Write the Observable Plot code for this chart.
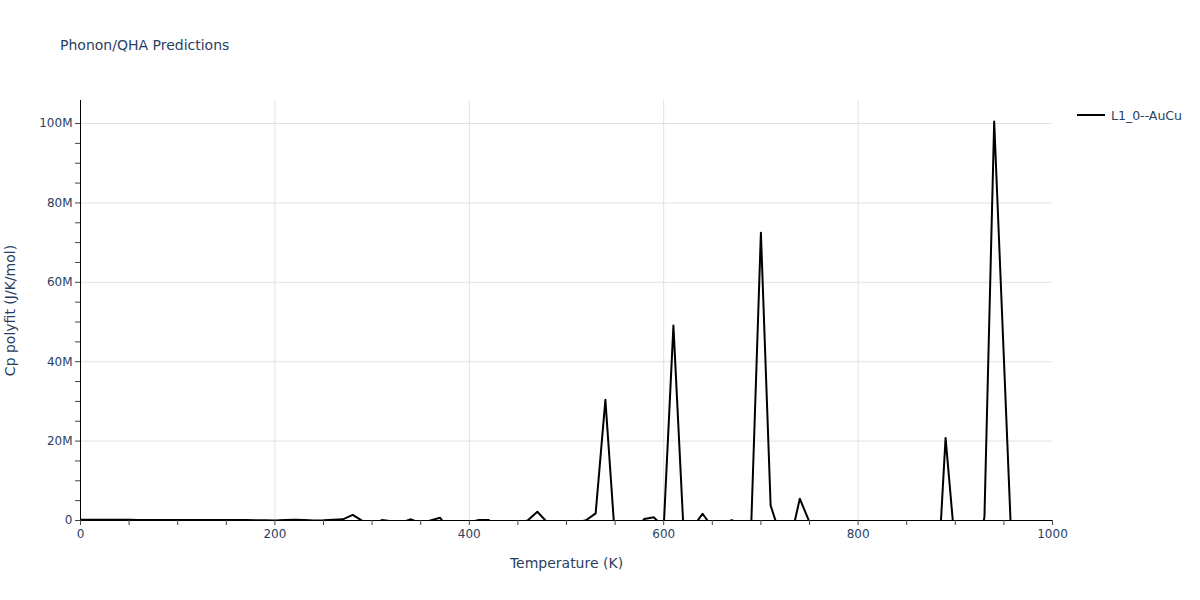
<!DOCTYPE html>
<html>
<head>
<meta charset="utf-8">
<script src="https://cdn.jsdelivr.net/npm/d3@7"></script>
<script src="https://cdn.jsdelivr.net/npm/@observablehq/plot@0.6"></script>
<style>
  body { margin: 0; background: #fff; font-family: "DejaVu Sans", Verdana, sans-serif; }
  #wrap { position: relative; width: 1200px; height: 600px; overflow: hidden; background: #fff; }
  #title { position: absolute; left: 60px; top: 36px; font-size: 14px; line-height: 18px; color: #2a3f5f; white-space: nowrap; }
  #legend { position: absolute; left: 1076px; top: 106px; font-size: 12.5px; color: #2a3f5f; display: flex; align-items: center; white-space: nowrap; }
  #legend svg { margin-right: 5px; }
  #chart { position: absolute; left: 0; top: 0; }
</style>
</head>
<body>
<div id="wrap">
  <div id="chart"></div>
  <div id="title">Phonon/QHA Predictions</div>
  <div id="legend"><svg width="30" height="18"><line x1="1" y1="9" x2="29" y2="9" stroke="black" stroke-width="2"/></svg><span id="legendLabel"></span></div>
</div>
<script>
// ---- data ----
const seriesName = "L1_0--AuCu";
const temperatures = d3.range(0, 1001, 10); // K, 0..1000 step 10
// Cp polyfit values in millions of J/K/mol (negatives are clipped below the axis)
const cpMillions = [
  0.2, 0.2, 0.2, 0.2, 0.2, 0.2, 0.15, 0.15, 0.15, 0.15,      // 0-90
  0.15, 0.1, 0.1, 0.1, 0.1, 0.1, 0.1, 0.1, 0.05, 0.05,        // 100-190
  0.02, 0.1, 0.2, 0.1, 0.0, 0.05, 0.2, 0.3, 1.4, -0.09,       // 200-290
  -1.0, 0.1, -0.18, -0.5, 0.3, -0.7, 0.0, 0.7, -2.8, -1.0,    // 300-390
  -0.4, 0.1, 0.1, -2.0, -1.0, -0.5, 0.0, 2.2, -0.42, -1.0,    // 400-490
  -1.0, -0.5, 0.05, 1.8, 30.4, -4.9, -3.0, -3.0, 0.4, 0.8,    // 500-590
  -1.8, 49.1, -0.5, -1.7, 1.7, -1.7, -1.0, 0.1, -1.0, -1.5,   // 600-690
  72.5, 3.8, -3.8, -5.5, 5.5, -0.4, -2.0, -3.0, -3.0, -2.0,   // 700-790
  -2.0, -2.0, -2.0, -2.0, -2.0, -2.0, -3.0, -5.0, -23.0, 20.8, // 800-890
  -7.3, -10.0, -15.0, 1.0, 100.5, 40.7, -19.1, -25.0, -30.0, -35.0, // 900-990
  -40.0                                                         // 1000
];
const xTicks = d3.range(0, 1001, 50);
const xLabelEvery = 200;
const yTicks = d3.range(0, 105e6, 5e6);
const yLabelEvery = 20e6;
const yMax = 105.8e6;
const xLabel = "Temperature (K)";
const yLabel = "Cp polyfit (J/K/mol)";

const data = temperatures.map((t, i) => ({T: t, Cp: cpMillions[i] * 1e6}));
document.getElementById("legendLabel").textContent = seriesName;

const textColor = "#2a3f5f";
const gridColor = "#e2e2e2";

const chart = Plot.plot({
  width: 1200,
  height: 600,
  marginLeft: 80,
  marginRight: 148,
  marginTop: 100,
  marginBottom: 80,
  style: {fontFamily: '"DejaVu Sans", Verdana, sans-serif', fontSize: "12px", background: "white", overflow: "visible"},
  x: {domain: [0, 1000]},
  y: {domain: [0, yMax]},
  marks: [
    Plot.gridX(xTicks.filter(d => d % xLabelEvery === 0 && d > 0 && d < 1000), {stroke: gridColor, strokeOpacity: 1}),
    Plot.gridY(yTicks.filter(d => d % yLabelEvery === 0 && d > 0), {stroke: gridColor, strokeOpacity: 1}),
    Plot.line(data, {x: "T", y: "Cp", stroke: "black", strokeWidth: 2, clip: true}),
    Plot.ruleX([0], {stroke: "#000", strokeWidth: 1}),
    Plot.ruleY([0], {stroke: "#000", strokeWidth: 1}),
    Plot.axisX({ticks: xTicks, tickSize: 5, tickPadding: 4, stroke: "#444", fill: textColor, label: null,
      tickFormat: d => d % xLabelEvery === 0 ? String(d) : ""}),
    Plot.axisY({ticks: yTicks, tickSize: 5, tickPadding: 3, stroke: "#444", fill: textColor, label: null,
      tickFormat: d => d % yLabelEvery === 0 ? (d === 0 ? "0" : d3.format("~s")(d)) : ""}),
    Plot.text([xLabel], {frameAnchor: "bottom", dy: 43, lineAnchor: "middle", textAnchor: "middle", fill: textColor, fontSize: 14}),
    Plot.text([yLabel], {frameAnchor: "left", dx: -70, rotate: -90, lineAnchor: "middle", textAnchor: "middle", fill: textColor, fontSize: 14})
  ]
});
document.getElementById("chart").appendChild(chart);
</script>
</body>
</html>
